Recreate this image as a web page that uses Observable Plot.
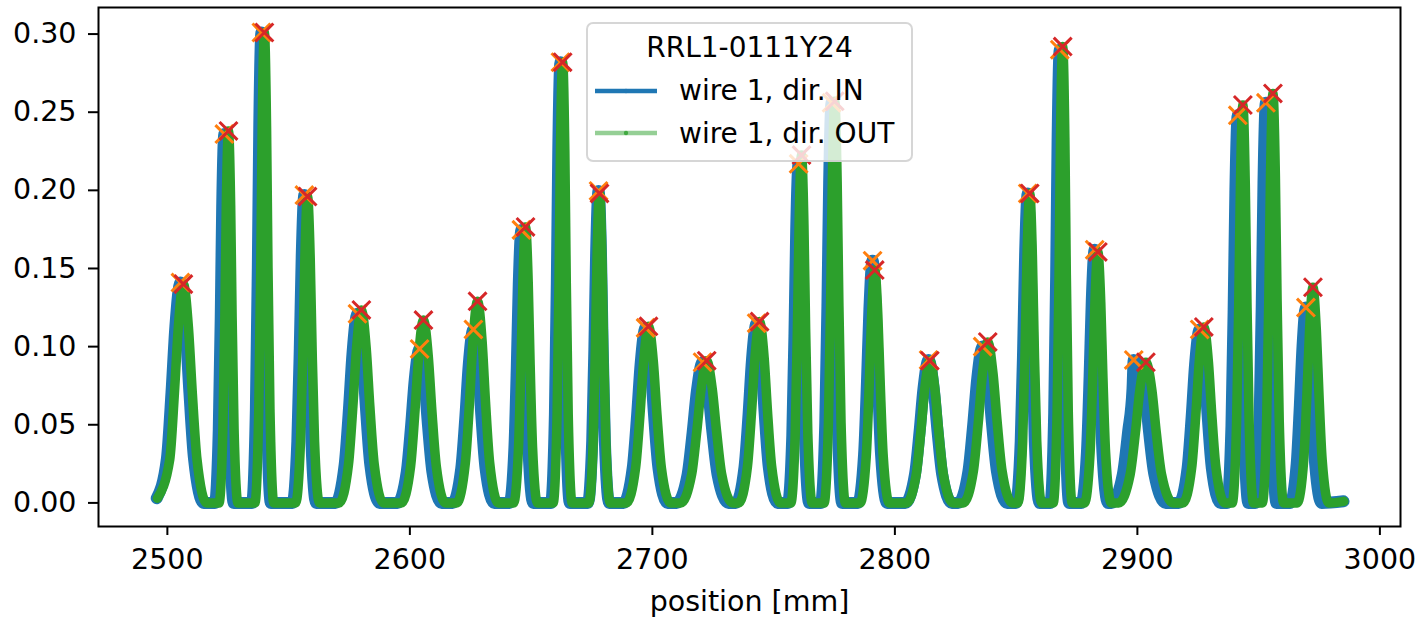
<!DOCTYPE html>
<html>
<head>
<meta charset="utf-8">
<script src="https://cdn.jsdelivr.net/npm/d3@7"></script>
<script src="https://cdn.jsdelivr.net/npm/@observablehq/plot@0.6"></script>
<style>
  body { margin: 0; background: #fff; font-family: "DejaVu Sans", sans-serif; }
  #wrap { position: relative; width: 1417px; height: 618px; }
  #legend {
    position: absolute; left: 586px; top: 22px; width: 323px; height: 136px;
    background: rgba(255,255,255,0.8); border: 2px solid rgba(204,204,204,0.8);
    border-radius: 7px; font-family: "DejaVu Sans", sans-serif; font-size: 28px; color: #000;
  }
  #legend .t { position: absolute; left: 0; width: 100%; text-align: center; }
  #legend .e { position: absolute; left: 91px; white-space: nowrap; }
  #legend svg { position: absolute; left: 0; top: 0; }
</style>
</head>
<body>
<div id="wrap">
  <div id="chart"></div>
  <div id="legend"></div>
</div>
<script>
// Scan of wire 1 of RRL1-0111Y24: signal profile vs. position, two scan directions.
// Each peak is described by the positions where the profile sits at fixed fractions
// of its apex height: foot (0), knee (0.2), half (0.5), shoulder (0.8), then the apex.

const xTicks = [2500, 2600, 2700, 2800, 2900, 3000];
const yTicks = [0, 0.05, 0.10, 0.15, 0.20, 0.25, 0.30];
const levelFrac = {foot: 0, knee: 0.2, half: 0.5, shoulder: 0.8};

// ---- direction OUT ----
const outStartVal = 0.003;
const outEnd = [2985.1, 0.001];
const outFootL     = [2495.9, 2521.3, 2536.1, 2552.9, 2570.9, 2596.5, 2619.3, 2642.8, 2659.1, 2673.8, 2689.3, 2711.7, 2735.6, 2757.1, 2770.8, 2785.7, 2804.8, 2828.2, 2850.7, 2865.3, 2878.2, 2892.3, 2918.8, 2939.1, 2951.5, 2965.9];
const outKneeL     = [2501.0, 2522.9, 2537.7, 2554.9, 2574.7, 2600.3, 2622.9, 2644.8, 2660.7, 2675.6, 2693.1, 2716.2, 2739.2, 2758.9, 2772.6, 2788.2, 2808.8, 2832.4, 2852.7, 2866.9, 2880.5, 2897.0, 2922.4, 2940.9, 2953.3, 2968.6];
const outHalfL     = [2502.9, 2523.7, 2538.5, 2555.9, 2576.5, 2602.1, 2624.6, 2645.8, 2661.5, 2676.5, 2694.9, 2718.3, 2740.9, 2759.8, 2773.5, 2789.4, 2810.7, 2834.4, 2853.7, 2867.7, 2881.6, 2899.2, 2924.1, 2941.8, 2954.2, 2969.9];
const outShoulderL = [2504.5, 2524.3, 2539.1, 2556.7, 2578.0, 2603.6, 2626.0, 2646.6, 2662.1, 2677.2, 2696.4, 2720.1, 2742.3, 2760.5, 2774.2, 2790.4, 2812.3, 2836.1, 2854.5, 2868.3, 2882.5, 2901.0, 2925.5, 2942.5, 2954.9, 2971.0];
const outPeakPos   = [2506.6, 2525.2, 2540.0, 2557.8, 2580.0, 2605.6, 2627.9, 2647.7, 2663.0, 2678.2, 2698.4, 2722.4, 2744.2, 2761.5, 2775.2, 2791.7, 2814.4, 2838.3, 2855.6, 2869.2, 2883.7, 2903.5, 2927.4, 2943.5, 2955.9, 2972.4];
const outPeakVal   = [0.140, 0.238, 0.301, 0.196, 0.1235, 0.117, 0.129, 0.1766, 0.282, 0.198, 0.113, 0.091, 0.116, 0.2226, 0.257, 0.149, 0.091, 0.103, 0.198, 0.292, 0.1606, 0.090, 0.1126, 0.2546, 0.262, 0.138];
const outShoulderR = [2508.7, 2526.1, 2540.9, 2558.9, 2582.0, 2607.6, 2629.8, 2648.8, 2663.9, 2679.2, 2700.4, 2724.7, 2746.1, 2762.5, 2776.2, 2793.0, 2816.5, 2840.5, 2856.7, 2870.1, 2884.9, 2906.0, 2929.3, 2944.5, 2956.9, 2973.8];
const outHalfR     = [2510.3, 2526.7, 2541.5, 2559.7, 2583.5, 2609.1, 2631.2, 2649.6, 2664.5, 2679.9, 2701.9, 2726.5, 2747.5, 2763.2, 2776.9, 2794.0, 2818.1, 2842.2, 2857.5, 2870.7, 2885.8, 2907.8, 2930.7, 2945.2, 2957.6, 2974.9];
const outKneeR     = [2512.2, 2527.5, 2542.3, 2560.7, 2585.3, 2610.9, 2632.9, 2650.6, 2665.3, 2680.8, 2703.7, 2728.6, 2749.2, 2764.1, 2777.8, 2795.2, 2820.0, 2844.2, 2858.5, 2871.5, 2886.9, 2910.0, 2932.4, 2946.1, 2958.5, 2976.2];
const outFootR     = [2516.2, 2529.1, 2543.9, 2562.7, 2589.1, 2614.7, 2636.5, 2652.6, 2666.9, 2682.6, 2707.5, 2733.1, 2752.8, 2765.9, 2779.6, 2797.7, 2824.0, 2848.4, 2860.5, 2873.1, 2889.2, 2914.7, 2936.0, 2947.9, 2960.3, 2978.9];

// ---- direction IN ----
const inStartVal = 0.003;
const inEnd = [2985.0, 0.001];
const inFootL     = [2495.6, 2519.6, 2534.9, 2551.6, 2569.3, 2594.9, 2617.6, 2641.1, 2658.2, 2673.4, 2688.1, 2710.0, 2734.4, 2755.9, 2769.5, 2784.8, 2804.3, 2826.1, 2849.9, 2864.1, 2876.9, 2889.3, 2917.1, 2937.0, 2948.6, 2963.0];
const inKneeL     = [2499.8, 2521.2, 2536.5, 2553.6, 2573.1, 2598.7, 2621.2, 2643.1, 2659.8, 2675.2, 2691.9, 2714.5, 2738.0, 2757.7, 2771.3, 2787.3, 2808.3, 2830.3, 2851.9, 2865.7, 2879.2, 2894.0, 2920.7, 2938.8, 2950.4, 2965.7];
const inHalfL     = [2501.7, 2522.0, 2537.3, 2554.6, 2574.9, 2600.5, 2622.9, 2644.1, 2660.6, 2676.1, 2693.7, 2716.6, 2739.7, 2758.6, 2772.2, 2788.5, 2810.2, 2832.3, 2852.9, 2866.5, 2880.3, 2896.2, 2922.4, 2939.7, 2951.3, 2967.0];
const inShoulderL = [2503.3, 2522.6, 2537.9, 2555.4, 2576.4, 2602.0, 2624.3, 2644.9, 2661.2, 2676.8, 2695.2, 2718.4, 2741.1, 2759.3, 2772.9, 2789.5, 2811.8, 2834.0, 2853.7, 2867.1, 2881.2, 2898.0, 2923.8, 2940.4, 2952.0, 2968.1];
const inPeakPos   = [2505.4, 2523.5, 2538.8, 2556.5, 2578.4, 2604.0, 2626.2, 2646.0, 2662.1, 2677.8, 2697.2, 2720.7, 2743.0, 2760.3, 2773.9, 2790.8, 2813.9, 2836.2, 2854.8, 2868.0, 2882.4, 2898.5, 2925.7, 2941.4, 2953.0, 2969.5];
const inPeakVal   = [0.141, 0.236, 0.301, 0.197, 0.121, 0.0985, 0.111, 0.1747, 0.282, 0.1996, 0.112, 0.090, 0.115, 0.217, 0.256, 0.155, 0.0915, 0.100, 0.198, 0.290, 0.162, 0.0915, 0.111, 0.248, 0.256, 0.125];
const inShoulderR = [2507.5, 2524.4, 2539.7, 2557.6, 2580.4, 2606.0, 2628.1, 2647.1, 2663.0, 2678.8, 2699.2, 2723.0, 2744.9, 2761.3, 2774.9, 2792.1, 2816.0, 2838.4, 2855.9, 2868.9, 2883.6, 2903.0, 2927.6, 2942.4, 2954.0, 2970.9];
const inHalfR     = [2509.1, 2525.0, 2540.3, 2558.4, 2581.9, 2607.5, 2629.5, 2647.9, 2663.6, 2679.5, 2700.7, 2724.8, 2746.3, 2762.0, 2775.6, 2793.1, 2817.6, 2840.1, 2856.7, 2869.5, 2884.5, 2904.8, 2929.0, 2943.1, 2954.7, 2972.0];
const inKneeR     = [2511.0, 2525.8, 2541.1, 2559.4, 2583.7, 2609.3, 2631.2, 2648.9, 2664.4, 2680.4, 2702.5, 2726.9, 2748.0, 2762.9, 2776.5, 2794.3, 2819.5, 2842.1, 2857.7, 2870.3, 2885.6, 2907.0, 2930.7, 2944.0, 2955.6, 2973.3];
const inFootR     = [2515.0, 2527.4, 2542.7, 2561.4, 2587.5, 2613.1, 2634.8, 2650.9, 2666.0, 2682.2, 2706.3, 2731.4, 2751.6, 2764.7, 2778.3, 2796.8, 2823.5, 2846.3, 2859.7, 2871.9, 2887.9, 2911.7, 2934.3, 2945.8, 2957.4, 2976.0];

const colorIn = "#1f77b4", colorOut = "#2ca02c";
const colorPeakIn = "#ff7f0e", colorPeakOut = "#d62728";

// Assemble the ordered vertex table of one profile.
function profileRows(p) {
  const rows = [];
  for (let i = 0; i < p.pos.length; i++) {
    const h = p.val[i];
    rows.push(
      {x: p.footL[i], y: i === 0 ? p.startVal : levelFrac.foot * h},
      {x: p.kneeL[i], y: levelFrac.knee * h},
      {x: p.halfL[i], y: levelFrac.half * h},
      {x: p.shoulderL[i], y: levelFrac.shoulder * h},
      {x: p.pos[i], y: h},
      {x: p.shoulderR[i], y: levelFrac.shoulder * h},
      {x: p.halfR[i], y: levelFrac.half * h},
      {x: p.kneeR[i], y: levelFrac.knee * h},
      {x: p.footR[i], y: levelFrac.foot * h}
    );
  }
  rows.push({x: p.end[0], y: p.end[1]});
  return rows;
}

const inRows = profileRows({startVal: inStartVal, end: inEnd, footL: inFootL, kneeL: inKneeL, halfL: inHalfL,
  shoulderL: inShoulderL, pos: inPeakPos, val: inPeakVal, shoulderR: inShoulderR, halfR: inHalfR, kneeR: inKneeR, footR: inFootR});
const outRows = profileRows({startVal: outStartVal, end: outEnd, footL: outFootL, kneeL: outKneeL, halfL: outHalfL,
  shoulderL: outShoulderL, pos: outPeakPos, val: outPeakVal, shoulderR: outShoulderR, halfR: outHalfR, kneeR: outKneeR, footR: outFootR});
const inPeaks = inPeakPos.map((x, i) => ({x, y: inPeakVal[i]}));
const outPeaks = outPeakPos.map((x, i) => ({x, y: outPeakVal[i]}));

const chart = Plot.plot({
  width: 1417,
  height: 618,
  marginLeft: 98,
  marginRight: 17,
  marginTop: 7,
  marginBottom: 92,
  style: {fontFamily: "DejaVu Sans", fontSize: "28.5px", color: "#000", background: "#fff"},
  x: {domain: [2471.6, 3008.5]},
  y: {domain: [-0.0151, 0.317]},
  marks: [
    Plot.axisX({ticks: xTicks, tickSize: 9, tickPadding: 13, strokeWidth: 2, tickFormat: d => String(d),
      label: "position [mm]", labelAnchor: "center", labelArrow: "none", labelOffset: 84, fontSize: 28.5}),
    Plot.axisY({ticks: yTicks, tickSize: 10, tickPadding: 12, strokeWidth: 2, tickFormat: d => d.toFixed(2),
      label: null, fontSize: 28.5}),
    Plot.line(inRows, {x: "x", y: "y", stroke: colorIn, strokeWidth: 12, curve: "monotone-x",
      strokeLinejoin: "round", strokeLinecap: "round"}),
    Plot.line(outRows, {x: "x", y: "y", stroke: colorOut, strokeWidth: 9.5, curve: "monotone-x",
      strokeLinejoin: "round", strokeLinecap: "round"}),
    Plot.dot(inPeaks, {x: "x", y: "y", symbol: "times", r: 8.2, stroke: colorPeakIn, strokeWidth: 3}),
    Plot.dot(outPeaks, {x: "x", y: "y", symbol: "times", r: 8.2, stroke: colorPeakOut, strokeWidth: 3}),
    Plot.frame({stroke: "#000", strokeWidth: 2})
  ]
});
document.getElementById("chart").appendChild(chart);

// Legend box laid over the top of the plot area
const legend = document.getElementById("legend");
legend.innerHTML = `
  <svg width="323" height="136">
    <line x1="7" x2="69" y1="67" y2="67" stroke="${colorIn}" stroke-width="4.5"/>
    <circle cx="38" cy="67" r="2.2" fill="${colorIn}"/>
    <line x1="7" x2="69" y1="109" y2="109" stroke="${colorOut}" stroke-opacity="0.5" stroke-width="4.5"/>
    <circle cx="38" cy="109" r="2.2" fill="${colorOut}" fill-opacity="0.8"/>
  </svg>
  <div class="t" style="top:7px">RRL1-0111Y24</div>
  <div class="e" style="top:50px">wire 1, dir. IN</div>
  <div class="e" style="top:93px">wire 1, dir. OUT</div>`;
</script>
</body>
</html>
